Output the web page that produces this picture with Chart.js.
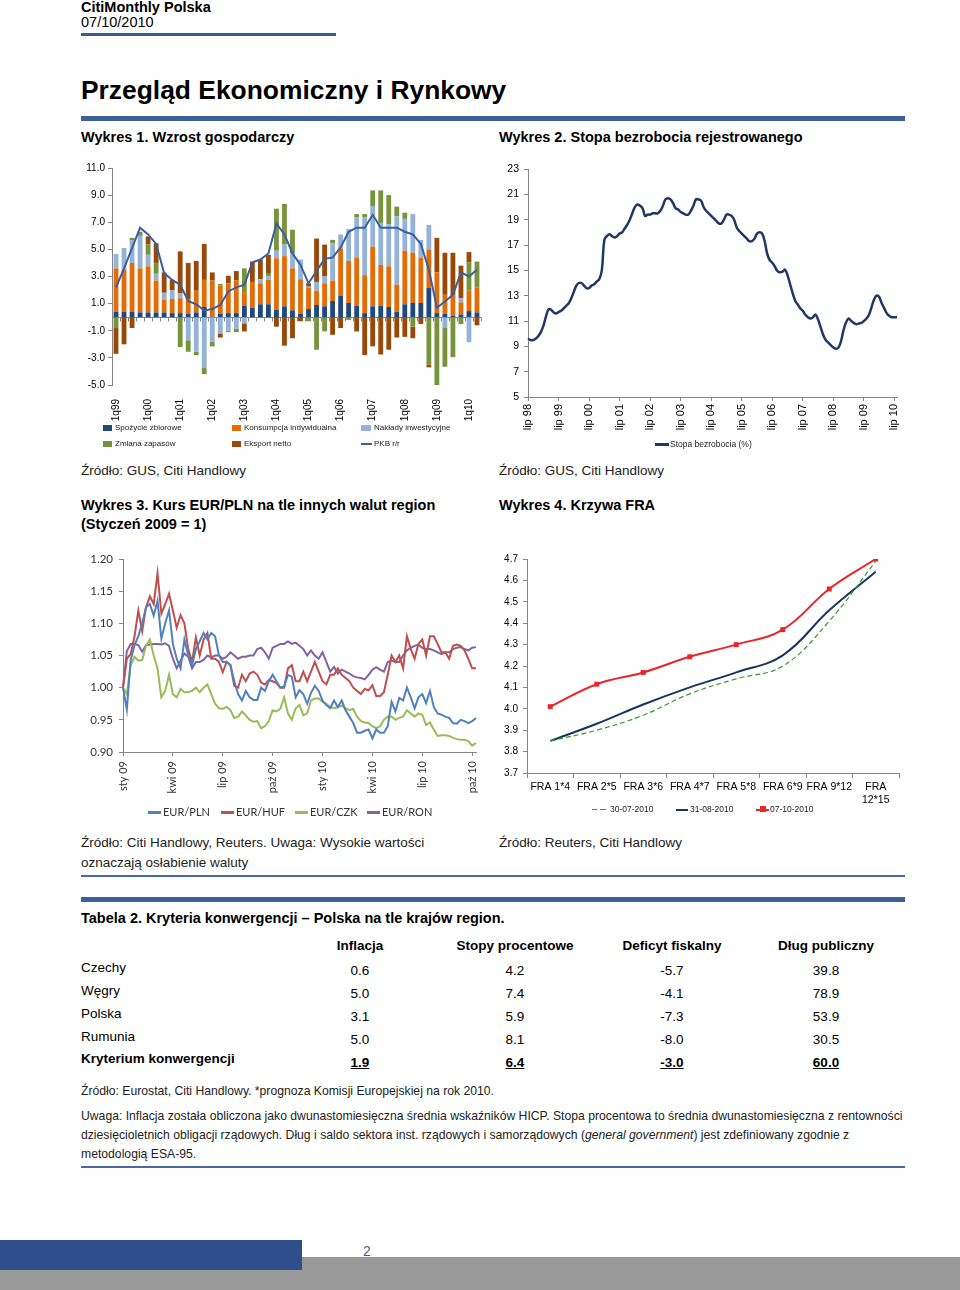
<!DOCTYPE html>
<html><head><meta charset="utf-8">
<script src="https://cdn.jsdelivr.net/npm/chart.js@4.4.1/dist/chart.umd.min.js"></script>
<style>
body{margin:0;width:960px;height:1290px;position:relative;background:#fff;font-family:"Liberation Sans",Arial,sans-serif;color:#000;overflow:hidden}
.a{position:absolute;white-space:nowrap;line-height:1}
.b{font-weight:bold}
.bar{position:absolute}
canvas{position:absolute}
.lg{position:absolute;white-space:nowrap;line-height:1;font-size:8px;color:#222}
.sw{position:absolute}
.c{position:absolute;width:100px;text-align:center;line-height:1;font-size:13.5px}
</style></head>
<body>
<div class="a b" style="left:81px;top:-0.5px;font-size:14.5px">CitiMonthly Polska</div>
<div class="a" style="left:81px;top:15.4px;font-size:14.5px">07/10/2010</div>
<div class="bar" style="left:81px;top:33px;width:255px;height:3px;background:#3A5A96"></div>
<div class="a b" style="left:81px;top:77.4px;font-size:26.4px">Przegląd Ekonomiczny i Rynkowy</div>
<div class="bar" style="left:81px;top:116px;width:824px;height:4.5px;background:#3F5F9B"></div>
<div class="a b" style="left:81px;top:130.4px;font-size:14.5px">Wykres 1. Wzrost gospodarczy</div>
<div class="a b" style="left:499px;top:130.4px;font-size:14.5px">Wykres 2. Stopa bezrobocia rejestrowanego</div>

<canvas id="c1" width="410" height="270" style="left:80px;top:155px"></canvas>
<canvas id="c2" width="410" height="280" style="left:495px;top:155px"></canvas>
<canvas id="c3" width="410" height="250" style="left:80px;top:545px"></canvas>
<canvas id="c4" width="410" height="260" style="left:495px;top:545px"></canvas>

<!-- legend chart 1 -->
<div class="sw" style="left:103px;top:425px;width:9px;height:6px;background:#1F497D"></div>
<div class="lg" style="left:115px;top:424px">Spożycie zbiorowe</div>
<div class="sw" style="left:232px;top:425px;width:9px;height:6px;background:#E36C09"></div>
<div class="lg" style="left:244px;top:424px">Konsumpcja indywidualna</div>
<div class="sw" style="left:361px;top:425px;width:10px;height:6px;background:#95B3D7"></div>
<div class="lg" style="left:374px;top:424px">Nakłady inwestycyjne</div>
<div class="sw" style="left:103px;top:441px;width:9px;height:6px;background:#77933C"></div>
<div class="lg" style="left:115px;top:440px">Zmiana zapasów</div>
<div class="sw" style="left:232px;top:441px;width:9px;height:6px;background:#984807"></div>
<div class="lg" style="left:244px;top:440px">Eksport netto</div>
<div class="sw" style="left:361px;top:443px;width:11px;height:2px;background:#3A5F9E"></div>
<div class="lg" style="left:374px;top:440px">PKB r/r</div>
<!-- legend chart 2 -->
<div class="sw" style="left:655px;top:443px;width:14px;height:2.5px;background:#1F3864"></div>
<div class="lg" style="left:670px;top:440px;font-size:8.5px">Stopa bezrobocia (%)</div>

<div class="a" style="left:81px;top:464.4px;font-size:13.5px;color:#222">Źródło: GUS, Citi Handlowy</div>
<div class="a" style="left:499px;top:464.4px;font-size:13.5px;color:#222">Źródło: GUS, Citi Handlowy</div>
<div class="a b" style="left:81px;top:497.9px;font-size:14.5px">Wykres 3. Kurs EUR/PLN na tle innych walut region</div>
<div class="a b" style="left:81px;top:516.9px;font-size:14.5px">(Styczeń 2009 = 1)</div>
<div class="a b" style="left:499px;top:497.9px;font-size:14.5px">Wykres 4. Krzywa FRA</div>

<!-- legend chart 3 -->
<div class="sw" style="left:148px;top:811px;width:13px;height:2.5px;background:#4F81BD"></div>
<div class="lg" style="left:163px;top:806px;font-size:11px;font-family:Lato,sans-serif;color:#333">EUR/PLN</div>
<div class="sw" style="left:221px;top:811px;width:13px;height:2.5px;background:#C0504D"></div>
<div class="lg" style="left:236px;top:806px;font-size:11px;font-family:Lato,sans-serif;color:#333">EUR/HUF</div>
<div class="sw" style="left:295px;top:811px;width:13px;height:2.5px;background:#9BBB59"></div>
<div class="lg" style="left:310px;top:806px;font-size:11px;font-family:Lato,sans-serif;color:#333">EUR/CZK</div>
<div class="sw" style="left:367px;top:811px;width:13px;height:2.5px;background:#8064A2"></div>
<div class="lg" style="left:382px;top:806px;font-size:11px;font-family:Lato,sans-serif;color:#333">EUR/RON</div>
<!-- legend chart 4 -->
<div class="sw" style="left:592px;top:809px;width:5px;height:1.2px;background:#339933"></div>
<div class="sw" style="left:600px;top:809px;width:6px;height:1.2px;background:#339933"></div>
<div class="lg" style="left:610px;top:805px;font-size:8.5px">30-07-2010</div>
<div class="sw" style="left:676px;top:808.5px;width:12px;height:2px;background:#17365D"></div>
<div class="lg" style="left:690px;top:805px;font-size:8.5px">31-08-2010</div>
<div class="sw" style="left:756px;top:808.5px;width:13px;height:2px;background:#E8262B"></div>
<div class="sw" style="left:760px;top:806px;width:6px;height:6px;background:#E8262B"></div>
<div class="lg" style="left:770px;top:805px;font-size:8.5px">07-10-2010</div>

<div class="a" style="left:81px;top:836.4px;font-size:13.5px;color:#222">Źródło: Citi Handlowy, Reuters. Uwaga: Wysokie wartości</div>
<div class="a" style="left:81px;top:856.4px;font-size:13.5px;color:#222">oznaczają osłabienie waluty</div>
<div class="a" style="left:499px;top:836.4px;font-size:13.5px;color:#222">Źródło: Reuters, Citi Handlowy</div>
<div class="bar" style="left:81px;top:875px;width:824px;height:2px;background:#4A6A9E"></div>
<div class="bar" style="left:81px;top:897px;width:824px;height:4.5px;background:#3F5F9B"></div>

<div class="a b" style="left:81px;top:910.9px;font-size:14.5px">Tabela 2. Kryteria konwergencji – Polska na tle krajów region.</div>
<div id="tbl"></div>

<div class="a" style="left:81px;top:1085px;font-size:12.2px;color:#222">Źródło: Eurostat, Citi Handlowy. *prognoza Komisji Europejskiej na rok 2010.</div>
<div class="a" style="left:81px;top:1110px;font-size:12.2px;color:#222">Uwaga: Inflacja została obliczona jako dwunastomiesięczna średnia wskaźników HICP. Stopa procentowa to średnia dwunastomiesięczna z rentowności</div>
<div class="a" style="left:81px;top:1129px;font-size:12.2px;color:#222">dziesięcioletnich obligacji rządowych. Dług i saldo sektora inst. rządowych i samorządowych (<i>general government</i>) jest zdefiniowany zgodnie z</div>
<div class="a" style="left:81px;top:1148px;font-size:12.2px;color:#222">metodologią ESA-95.</div>
<div class="bar" style="left:81px;top:1166px;width:824px;height:2px;background:#4A6A9E"></div>

<div class="bar" style="left:0;top:1257px;width:960px;height:33px;background:#999999"></div>
<div class="bar" style="left:0;top:1240px;width:302px;height:30px;background:#2F4F8C"></div>
<div class="a" style="left:363px;top:1244px;font-size:14px;color:#3E5B96">2</div>

<script>
// ---------- Chart 1 data: Wzrost gospodarczy (contributions, pp) ----------
const quarters = ['1q99','2q99','3q99','4q99','1q00','2q00','3q00','4q00','1q01','2q01','3q01','4q01',
 '1q02','2q02','3q02','4q02','1q03','2q03','3q03','4q03','1q04','2q04','3q04','4q04',
 '1q05','2q05','3q05','4q05','1q06','2q06','3q06','4q06','1q07','2q07','3q07','4q07',
 '1q08','2q08','3q08','4q08','1q09','2q09','3q09','4q09','1q10','2q10'];
const spozycieZbiorowe = [0.4,0.4,0.4,0.35,0.35,0.35,0.35,0.3,0.3,0.25,0.35,0.75,
 0.05,0.25,0.3,0.3,0.85,0.7,0.95,0.95,0.55,0.8,0.5,0.25,
 0.6,0.9,0.8,1.2,1.6,1.05,0.85,0.3,0.8,0.85,0.75,0.4,
 0.95,1.05,1.05,2.15,0.3,0.25,0.1,0.2,0.45,0.35];
const konsumpcjaIndywidualna = [3.2,3.1,3.6,3.25,3.4,2.35,0.95,1.05,1.1,1.05,1.6,2.0,
 2.65,2.1,2.2,2.4,1.0,1.9,1.55,1.8,3.8,3.7,3.1,2.55,
 1.55,1.05,1.7,1.5,3.45,3.1,3.55,2.8,4.4,3.0,3.0,2.0,
 3.95,3.7,3.35,2.85,3.0,1.4,1.5,0.9,1.5,1.85];
const nakladyInwestycyjne = [1.05,1.6,1.65,2.4,0.85,0.5,0.5,0.65,0.35,-1.7,-2.55,-3.75,
 -1.8,-1.2,-1.0,-0.85,-0.45,0,0.3,0.25,0.55,0.85,1.1,1.45,
 0.1,0.65,0.5,2.75,1.05,2.35,2.95,4.25,3.0,3.1,3.1,5.05,
 2.35,2.85,1.3,1.8,0,-0.75,0,0.3,-1.85,0];
const zmianaZapasow = [-0.8,0,0.2,0.3,0.75,0.8,0,0,-2.2,-0.85,-0.25,-0.45,
 -0.35,0.1,-0.1,-0.25,1.75,0,0,0.2,3.1,3.0,1.75,0,
 -0.3,-2.4,-1.05,0.25,0,-0.2,0.25,0.25,1.15,2.4,2.15,0.7,
 0.45,-0.7,0,-3.5,-5.1,-2.9,-2.95,-0.5,2.1,1.9];
const eksportNetto = [-1.9,-2.0,-0.8,0,0.6,1.45,1.5,0.75,3.1,2.7,2.2,2.65,
 0.6,-0.3,0.55,0.7,-0.6,1.5,1.45,1.4,-0.7,-2.1,-1.55,-0.3,
 0.25,3.2,2.35,-1.3,-0.8,0,-1.05,-2.8,-2.15,-2.75,-2.4,-1.5,
 -1.45,-0.85,-0.5,-0.2,2.55,3.1,3.15,2.4,0.75,-0.6];
const pkbRr = [2.2,3.6,5.1,6.6,6.1,5.4,3.25,2.75,2.4,1.2,0.95,0.5,
 0.6,0.9,1.9,2.2,2.4,4.05,4.25,4.7,6.9,6.1,4.7,3.85,
 2.5,3.4,4.3,4.4,5.15,6.3,6.6,6.6,7.55,6.6,6.6,6.6,
 6.3,6.1,5.4,3.5,0.7,1.15,1.65,3.3,3.0,3.5];
const gdpTicks = [-5,-3,-1,1,3,5,7,9,11];

// ---------- Chart 2 data: Stopa bezrobocia (%) monthly, lip 98 .. sie 10 ----------
const monthNames = ['lip','sie','wrz','paź','lis','gru','sty','lut','mar','kwi','maj','cze'];
const startYear = 98;
const unemployment = [
 9.6,9.5,9.5,9.6,9.8,10.1,10.6,11.3,11.9,11.9,
 11.7,11.6,11.7,11.8,12.0,12.2,12.4,12.8,13.3,13.8,
 14.0,14.0,13.8,13.6,13.6,13.8,13.9,14.1,14.3,15.0,
 17.4,17.7,17.85,17.7,17.6,17.7,17.9,18.0,18.3,18.6,
 19.0,19.5,20.0,20.2,20.1,19.9,19.3,19.4,19.4,19.5,
 19.5,19.5,19.7,20.1,20.6,20.7,20.6,20.3,19.9,19.8,
 19.6,19.5,19.4,19.4,19.7,20.1,20.6,20.6,20.5,20.0,
 19.7,19.5,19.3,19.1,18.9,18.7,18.7,19.0,19.4,19.4,
 19.3,19.0,18.4,18.1,17.9,17.7,17.5,17.3,17.3,17.5,
 17.9,18.0,17.9,17.3,16.3,15.8,15.6,15.3,14.95,14.85,
 14.9,15.05,14.6,13.9,13.2,12.6,12.3,12.0,11.8,11.5,
 11.3,11.2,11.3,11.5,11.1,10.5,9.9,9.5,9.3,9.1,
 8.9,8.8,8.9,9.4,10.3,10.9,11.2,11.0,10.85,10.75,
 10.8,10.85,11.0,11.2,11.5,12.1,12.7,13.0,12.9,12.4,
 12.0,11.6,11.4,11.3,11.3,11.3];
const monthLabels = unemployment.map((_, i) => {
  const yy = (startYear + Math.floor((i + 6) / 12)) % 100;
  return monthNames[i % 12] + ' ' + String(yy).padStart(2, '0');
});

// ---------- Chart 3 data: weekly, sty 09 = 1 ----------
const fxTickLabels = ['sty 09','kwi 09','lip 09','paź 09','sty 10','kwi 10','lip 10','paź 10'];
const eurPln = [1.000,0.966,1.043,1.066,1.080,1.100,1.125,1.130,1.112,1.135,
 1.076,1.100,1.120,1.068,1.045,1.030,1.075,1.050,1.035,1.060,
 1.072,1.085,1.075,1.085,1.080,1.050,1.040,1.040,1.035,1.010,
 0.990,0.980,0.995,0.985,0.981,0.981,1.000,0.995,1.010,1.020,
 1.010,1.000,1.002,1.020,1.017,0.985,0.996,0.990,0.975,0.992,
 1.003,0.995,0.980,0.973,0.968,0.980,0.970,0.980,0.965,0.955,
 0.945,0.930,0.930,0.933,0.935,0.921,0.935,0.930,0.930,0.940,
 0.978,0.963,0.984,0.980,1.000,0.985,0.968,0.985,0.990,0.976,
 0.995,0.970,0.960,0.958,0.955,0.953,0.945,0.944,0.950,0.948,
 0.945,0.948,0.953];
const eurHuf = [1.000,1.045,1.052,1.080,1.120,1.088,1.125,1.142,1.130,1.178,
 1.115,1.130,1.146,1.120,1.093,1.113,1.100,1.060,1.040,1.078,
 1.050,1.075,1.085,1.045,1.045,1.040,1.024,1.040,1.035,1.003,
 1.000,1.020,1.010,1.022,1.025,1.020,1.008,1.005,1.012,1.010,
 1.007,1.000,1.000,1.030,1.035,1.010,1.010,1.025,1.010,1.025,
 1.040,1.025,1.010,1.005,1.020,1.020,1.030,1.020,1.015,1.010,
 1.000,0.995,0.990,0.998,0.996,1.004,0.987,0.987,0.993,1.020,
 1.050,1.040,1.050,1.030,1.080,1.060,1.045,1.068,1.075,1.050,
 1.080,1.080,1.068,1.055,1.055,1.045,1.065,1.067,1.065,1.058,
 1.045,1.030,1.030];
const eurCzk = [1.000,0.990,1.035,1.048,1.042,1.043,1.065,1.075,1.050,1.030,
 0.985,0.995,1.020,0.990,0.985,0.998,0.993,0.993,0.995,1.000,
 0.993,1.000,1.005,0.990,0.975,0.968,0.967,0.970,0.965,0.953,
 0.955,0.963,0.957,0.950,0.947,0.948,0.937,0.940,0.948,0.965,
 0.963,0.967,0.985,0.960,0.950,0.968,0.973,0.957,0.960,0.980,
 0.983,0.983,0.978,0.975,0.970,0.968,0.970,0.972,0.968,0.965,
 0.967,0.955,0.948,0.946,0.945,0.940,0.937,0.940,0.950,0.955,
 0.955,0.950,0.953,0.955,0.965,0.960,0.955,0.960,0.958,0.942,
 0.946,0.935,0.925,0.926,0.926,0.925,0.922,0.920,0.919,0.919,
 0.917,0.910,0.914];
const eurRon = [1.000,1.057,1.068,1.068,1.066,1.056,1.066,1.067,1.068,1.068,
 1.067,1.069,1.065,1.045,1.030,1.042,1.053,1.048,1.030,1.040,
 1.040,1.043,1.050,1.047,1.050,1.050,1.045,1.048,1.055,1.050,
 1.045,1.048,1.048,1.050,1.050,1.060,1.062,1.055,1.045,1.062,
 1.065,1.068,1.068,1.072,1.068,1.070,1.065,1.060,1.050,1.058,
 1.050,1.045,1.055,1.040,1.025,1.032,1.022,1.028,1.025,1.022,
 1.018,1.016,1.015,1.013,1.020,1.028,1.032,1.028,1.025,1.040,
 1.042,1.040,1.040,1.050,1.058,1.062,1.065,1.067,1.062,1.060,
 1.060,1.058,1.055,1.052,1.055,1.055,1.060,1.062,1.063,1.060,
 1.058,1.062,1.063];
const weeksPerTick = 13;
const weekLabels = eurPln.map((_, i) => i % weeksPerTick === 0 ? (fxTickLabels[i / weeksPerTick] || '') : '');

// ---------- Chart 4 data: Krzywa FRA ----------
const fraLabels = ['FRA 1*4','FRA 2*5','FRA 3*6','FRA 4*7','FRA 5*8','FRA 6*9','FRA 9*12',['FRA','12*15']];
const fra300710 = [3.85,3.90,3.97,4.07,4.14,4.20,4.41,4.69];
const fra310810 = [3.85,3.93,4.02,4.10,4.17,4.25,4.46,4.64];
const fra071010 = [4.01,4.115,4.17,4.243,4.30,4.37,4.56,4.70];

// ---------- Tabela 2 ----------
const tblColumns = ['Inflacja','Stopy procentowe','Deficyt fiskalny','Dług publiczny'];
const tblRows = ['Czechy','Węgry','Polska','Rumunia','Kryterium konwergencji'];
const tblInflacja = ['0.6','5.0','3.1','5.0','1.9'];
const tblStopy = ['4.2','7.4','5.9','8.1','6.4'];
const tblDeficyt = ['-5.7','-4.1','-7.3','-8.0','-3.0'];
const tblDlug = ['39.8','78.9','53.9','30.5','60.0'];

(function buildTable(){
  const t = document.getElementById('tbl');
  const colX = [360, 515, 672, 826];
  const rowY = [968, 991, 1014, 1037, 1059];
  const valY = [971, 994, 1017, 1040, 1063];
  let h = '';
  tblColumns.forEach((c, j) => {
    h += `<div class="c b" style="left:${colX[j]-70}px;width:140px;top:${946-6.6}px;font-size:13.5px">${c}</div>`;
  });
  const cols = [tblInflacja, tblStopy, tblDeficyt, tblDlug];
  tblRows.forEach((r, i) => {
    const last = i === tblRows.length - 1;
    h += `<div class="a${last?' b':''}" style="left:81px;top:${rowY[i]-6.6}px;font-size:13.5px">${r}</div>`;
    cols.forEach((col, j) => {
      h += `<div class="c${last?' b':''}" style="left:${colX[j]-50}px;top:${valY[i]-6.6}px;${last?'text-decoration:underline;':''}">${col[i]}</div>`;
    });
  });
  t.innerHTML = h;
})();

// ---------- Chart.js setup ----------
Chart.defaults.font.family = '"Liberation Sans", Arial, sans-serif';
Chart.defaults.color = '#000';
Chart.defaults.animation = false;
const AX = '#868686';
const fixY = w => s => { s.width = w; s.paddingTop = 0; s.paddingBottom = 0; };
const fixX = h => s => { s.height = h; s.paddingLeft = 0; s.paddingRight = 0; };
const noLegend = { legend: { display: false }, tooltip: { enabled: false } };

const zeroAxis = {
  id: 'zeroAxis',
  beforeDatasetsDraw(chart) {
    const { ctx, chartArea: a, scales: { x, y } } = chart;
    const py = Math.round(y.getPixelForValue(0)) + 0.5;
    ctx.save();
    ctx.strokeStyle = AX; ctx.lineWidth = 1;
    ctx.beginPath();
    ctx.moveTo(a.left, py); ctx.lineTo(a.right, py);
    const n = x.ticks.length;
    for (let i = 0; i <= n; i++) {
      const px = Math.round(x.getPixelForValue(i) - (a.right - a.left) / n / 2) + 0.5;
      ctx.moveTo(px, py); ctx.lineTo(px, py + 4);
    }
    ctx.stroke(); ctx.restore();
  }
};

// Chart 1
new Chart(document.getElementById('c1'), {
  data: {
    labels: quarters,
    datasets: [
      { type: 'line', label: 'PKB r/r', data: pkbRr, borderColor: '#3A5F9E', borderWidth: 2, pointRadius: 0, tension: 0, order: 0, stack: 'pkb' },
      { type: 'bar', label: 'Spożycie zbiorowe', data: spozycieZbiorowe, backgroundColor: '#1F497D', order: 1, stack: 'g' },
      { type: 'bar', label: 'Konsumpcja indywidualna', data: konsumpcjaIndywidualna, backgroundColor: '#E36C09', order: 1, stack: 'g' },
      { type: 'bar', label: 'Nakłady inwestycyjne', data: nakladyInwestycyjne, backgroundColor: '#95B3D7', order: 1, stack: 'g' },
      { type: 'bar', label: 'Zmiana zapasów', data: zmianaZapasow, backgroundColor: '#77933C', order: 1, stack: 'g' },
      { type: 'bar', label: 'Eksport netto', data: eksportNetto, backgroundColor: '#984807', order: 1, stack: 'g' }
    ]
  },
  options: {
    responsive: false, animation: false,
    layout: { padding: { top: 13, right: 9, left: 0, bottom: 0 } },
    datasets: { bar: { barPercentage: 0.6, categoryPercentage: 1 } },
    plugins: noLegend,
    scales: {
      x: { stacked: true, offset: true, afterFit: fixX(40),
        border: { display: false }, grid: { display: false },
        ticks: { autoSkip: false, minRotation: 90, maxRotation: 90, padding: 6, font: { size: 10 },
          callback: (v, i) => i % 4 === 0 ? quarters[i] : '' } },
      y: { stacked: true, min: -5, max: 11, afterFit: fixY(32),
        afterBuildTicks: s => { s.ticks = gdpTicks.map(v => ({ value: v })); },
        border: { display: true, color: AX },
        grid: { drawOnChartArea: false, drawTicks: true, tickLength: 4, color: AX },
        ticks: { padding: 3, font: { size: 10 }, callback: v => Number(v).toFixed(1) } }
    }
  },
  plugins: [zeroAxis]
});

// Chart 2
new Chart(document.getElementById('c2'), {
  type: 'line',
  data: { labels: monthLabels, datasets: [
    { label: 'Stopa bezrobocia (%)', data: unemployment, borderColor: '#1F3864', borderWidth: 2.5, pointRadius: 0, tension: 0.4 } ] },
  options: {
    responsive: false, animation: false,
    layout: { padding: { top: 14, right: 8, left: 0, bottom: 0 } },
    plugins: noLegend,
    scales: {
      x: { afterFit: fixX(38), border: { display: true, color: AX },
        grid: { drawOnChartArea: false, drawTicks: true, tickLength: 4, color: c => (c.index % 12 === 0 ? AX : 'rgba(0,0,0,0)') },
        ticks: { autoSkip: false, minRotation: 90, maxRotation: 90, padding: 3, font: { size: 11 },
          callback: (v, i) => i % 12 === 0 ? monthLabels[i] : '' } },
      y: { min: 5, max: 23, afterFit: fixY(33),
        border: { display: true, color: AX },
        grid: { drawOnChartArea: false, drawTicks: true, tickLength: 4, color: AX },
        ticks: { stepSize: 2, padding: 5, font: { size: 10.5 } } }
    }
  }
});

// Chart 3
new Chart(document.getElementById('c3'), {
  type: 'line',
  data: { labels: weekLabels, datasets: [
    { label: 'EUR/PLN', data: eurPln, borderColor: '#4F81BD', borderWidth: 2, pointRadius: 0, tension: 0 },
    { label: 'EUR/HUF', data: eurHuf, borderColor: '#C0504D', borderWidth: 2, pointRadius: 0, tension: 0 },
    { label: 'EUR/CZK', data: eurCzk, borderColor: '#9BBB59', borderWidth: 2, pointRadius: 0, tension: 0 },
    { label: 'EUR/RON', data: eurRon, borderColor: '#8064A2', borderWidth: 2, pointRadius: 0, tension: 0 } ] },
  options: {
    responsive: false, animation: false,
    layout: { padding: { top: 14, right: 14, left: 0, bottom: 0 } },
    plugins: noLegend,
    scales: {
      x: { afterFit: fixX(43), border: { display: true, color: AX },
        grid: { drawOnChartArea: false, drawTicks: true, tickLength: 4, color: c => (c.index % weeksPerTick === 0 ? AX : 'rgba(0,0,0,0)') },
        ticks: { autoSkip: false, minRotation: 90, maxRotation: 90, padding: 5, color: '#333', font: { size: 11, family: 'Lato, sans-serif' } } },
      y: { min: 0.9, max: 1.2, afterFit: fixY(43),
        border: { display: true, color: AX },
        grid: { drawOnChartArea: false, drawTicks: true, tickLength: 4, color: AX },
        ticks: { stepSize: 0.05, padding: 6, color: '#333', font: { size: 11.5, family: 'Lato, sans-serif' }, callback: v => Number(v).toFixed(2) } }
    }
  }
});

// Chart 4
new Chart(document.getElementById('c4'), {
  type: 'line',
  data: { labels: fraLabels, datasets: [
    { label: '30-07-2010', data: fra300710, borderColor: '#339933', borderWidth: 1.2, borderDash: [5, 3], pointRadius: 0, tension: 0.4 },
    { label: '31-08-2010', data: fra310810, borderColor: '#17365D', borderWidth: 2, pointRadius: 0, tension: 0.4 },
    { label: '07-10-2010', data: fra071010, borderColor: '#E8262B', backgroundColor: '#E8262B', borderWidth: 2,
      pointStyle: 'rect', pointRadius: 3.5, pointBorderWidth: 0, tension: 0.4 } ] },
  options: {
    responsive: false, animation: false,
    layout: { padding: { top: 14, right: 6, left: 0, bottom: 0 } },
    plugins: noLegend,
    scales: {
      x: { offset: true, afterFit: fixX(32), border: { display: true, color: AX },
        grid: { offset: true, drawOnChartArea: false, drawTicks: true, tickLength: 5, color: AX },
        ticks: { autoSkip: false, maxRotation: 0, minRotation: 0, padding: 3, font: { size: 10.5 } } },
      y: { min: 3.7, max: 4.7, afterFit: fixY(32),
        border: { display: true, color: AX },
        grid: { drawOnChartArea: false, drawTicks: true, tickLength: 4, color: AX },
        ticks: { stepSize: 0.1, padding: 5, font: { size: 10 }, callback: v => Number(v).toFixed(1) } }
    }
  }
});
</script>
</body></html>
